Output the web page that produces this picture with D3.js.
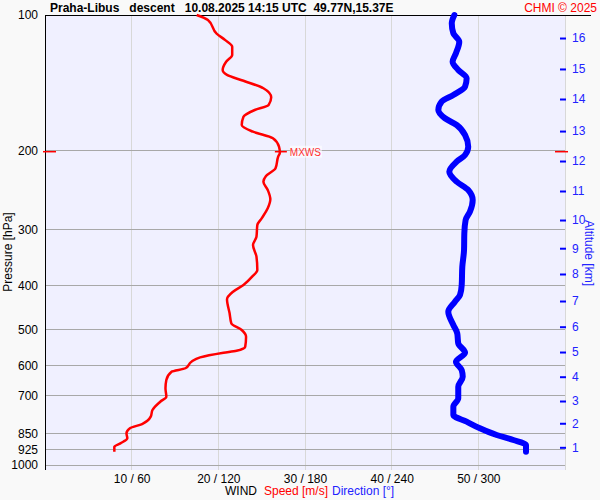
<!DOCTYPE html>
<html><head><meta charset="utf-8">
<script src="https://cdn.jsdelivr.net/npm/d3@7"></script>
<style>
body{margin:0;background:#f9f9f9}
svg{display:block;font-family:"Liberation Sans",Arial,sans-serif}
</style>
</head><body><svg id="c" width="600" height="500"></svg>
<script>
const pressureTicks = [100, 200, 300, 400, 500, 600, 700, 850, 925, 1000];
const windTicks = [10, 20, 30, 40, 50];
const altKm = [1, 2, 3, 4, 5, 6, 7, 8, 9, 10, 11, 12, 13, 14, 15, 16];
const altPres = [913.5, 807.7, 720.8, 636.5, 561, 492.8, 432.1, 376.3, 329.8, 285.5, 246.1, 211.1, 181.1, 153.7, 131.8, 112.5];

const speedPres = [100, 102.6, 110, 113.7, 117.6, 122.7, 127, 132.5, 135.9, 140, 145.5, 152.4, 158.5, 162.6, 168.3, 175.6, 181.7, 187.9, 196.2, 202.3,
  206.5, 219.1, 227.9, 234.6, 244.8, 256.8, 268.9, 283, 292.9, 311, 324.5, 344.4, 368.7, 381.5, 398.1, 412, 428.2, 460.1, 484.3, 501.2,
  518.7, 546, 557.2, 563, 576.5, 589.5, 609.6, 620.4, 647.4, 675.5, 705, 723.4, 754.7, 781, 810.9, 828.8, 850.3, 872.4, 895, 910.8, 934.2];
const speedVals = [17.5, 18.8, 19.8, 20.8, 21.6, 21.6, 20.9, 20.5, 21.0, 22.9, 25.2, 26.1, 25.8, 24.2, 22.9, 22.7, 24.0, 26.3, 27.0, 27.1,
  26.9, 26.6, 25.5, 25.2, 25.7, 26.0, 25.7, 25.0, 24.5, 24.4, 24.0, 24.4, 24.5, 23.9, 22.9, 21.7, 21.0, 21.3, 21.5, 22.7,
  23.2, 23.1, 22.1, 20.6, 17.9, 16.9, 16.2, 14.6, 14.0, 13.9, 14.0, 13.3, 12.4, 12.2, 11.2, 9.8, 9.4, 9.5, 8.7, 8.0, 8.0];

const dirPres = [100, 104.3, 109.8, 114.6, 121.6, 127, 132.5, 138.3, 144.3, 150.6, 155.8, 162.6, 169.6, 175.6, 184.8, 196.2, 204.7, 211.8, 222.9, 234.6,
  244.8, 257.7, 273.6, 285.5, 305.6, 332.8, 362.5, 398.1, 419.2, 433.7, 456.3, 488.5, 509.7, 536.5, 563, 589.5, 615.1, 636.5, 669.9, 710.8,
  742, 774.3, 801.2, 828.8, 857.7, 879.9, 902.8, 934.2];
const dirVals = [283.4, 281.6, 282.7, 286.8, 284.5, 282.2, 286.1, 291.9, 290.8, 282.7, 274.6, 272.3, 276.9, 285.0, 290.8, 293.0, 290.8, 285.0, 279.9, 285.0,
  293.0, 296.1, 294.2, 291.2, 290.3, 290.1, 288.9, 288.5, 287.3, 283.8, 279.2, 282.7, 285.4, 286.1, 290.8, 284.5, 288.5, 289.2, 286.1, 286.1,
  282.7, 282.7, 291.9, 301.1, 312.7, 324.2, 333.0, 333.0];

const L = 45, R = 565, T = 15, B = 465, BB = 470;
const svg = d3.select("#c");
const y = d3.scaleLog().domain([100, 1000]).range([T, B]);
const xs = d3.scaleLinear().domain([0, 60]).range([L, R]);
const xd = d3.scaleLinear().domain([0, 360]).range([L, R]);
const yAlt = d3.scaleLinear().domain(altKm).range(altPres.map(p => y(p)));

svg.append("rect").attr("width", 600).attr("height", 500).attr("fill", "#f9f9f9");
svg.append("rect").attr("x", L).attr("y", T).attr("width", R - L).attr("height", BB - T).attr("fill", "#f0f0ff");

// vertical grid
svg.append("g").selectAll("line").data(windTicks.concat([60])).join("line")
  .attr("x1", d => xs(d)).attr("x2", d => xs(d)).attr("y1", T).attr("y2", BB)
  .attr("stroke", "#d8d8d8").attr("stroke-width", 1).attr("shape-rendering", "crispEdges");
// horizontal grid
svg.append("g").selectAll("line").data(pressureTicks.slice(1)).join("line")
  .attr("x1", L).attr("x2", R).attr("y1", d => y(d)).attr("y2", d => y(d))
  .attr("stroke", "#a8a8a8").attr("stroke-width", 1).attr("shape-rendering", "crispEdges");

// borders
svg.append("line").attr("x1", L).attr("x2", 591).attr("y1", T).attr("y2", T).attr("stroke", "#000").attr("shape-rendering", "crispEdges");
svg.append("line").attr("x1", L).attr("x2", L).attr("y1", T).attr("y2", BB).attr("stroke", "#000").attr("shape-rendering", "crispEdges");

// left axis
const ax = svg.append("g").attr("transform", `translate(${L},0)`)
  .call(d3.axisLeft(y).tickValues(pressureTicks).tickFormat(d3.format("d")).tickSize(0).tickPadding(7));
ax.select(".domain").remove();
ax.selectAll("text").attr("font-size", 12).attr("fill", "#000").attr("font-family", "Liberation Sans, Arial, sans-serif");

// bottom axis
const bx = svg.append("g").attr("transform", `translate(0,${BB})`)
  .call(d3.axisBottom(xs).tickValues(windTicks).tickFormat(d => `${d} / ${d * 6}`).tickSize(0).tickPadding(4));
bx.select(".domain").remove();
bx.selectAll("text").attr("font-size", 12).attr("fill", "#000").attr("font-family", "Liberation Sans, Arial, sans-serif");

// right altitude axis
const rx = svg.append("g").attr("transform", `translate(560,0)`)
  .call(d3.axisRight(yAlt).tickValues(altKm).tickFormat(d3.format("d")).tickSize(6).tickPadding(6));
rx.select(".domain").remove();
rx.selectAll("line").attr("stroke", "#0000ff").attr("stroke-width", 2);
rx.selectAll("text").attr("font-size", 12).attr("fill", "#2222ff").attr("font-family", "Liberation Sans, Arial, sans-serif");

// curves
const lineS = d3.line().x((d, i) => xs(speedVals[i])).y(d => y(d)).curve(d3.curveMonotoneY);
const lineD = d3.line().x((d, i) => xd(dirVals[i])).y(d => y(d)).curve(d3.curveMonotoneY);
svg.append("path").attr("d", lineD(dirPres)).attr("fill", "none").attr("stroke", "#0000ff")
  .attr("stroke-width", 6).attr("stroke-linecap", "round").attr("stroke-linejoin", "round");
svg.append("path").attr("d", lineS(speedPres)).attr("fill", "none").attr("stroke", "#ff0000")
  .attr("stroke-width", 2.5).attr("stroke-linejoin", "round");

// MXWS
const mi = d3.maxIndex(speedVals);
const my = y(speedPres[mi]) - 1;
const mx = xs(speedVals[mi]);
svg.append("line").attr("x1", 43).attr("x2", 56).attr("y1", my).attr("y2", my).attr("stroke", "#ff0000").attr("stroke-width", 1.5);
svg.append("line").attr("x1", 555).attr("x2", 568).attr("y1", my).attr("y2", my).attr("stroke", "#ff0000").attr("stroke-width", 1.5);
svg.append("line").attr("x1", mx - 5).attr("x2", mx + 7).attr("y1", my).attr("y2", my).attr("stroke", "#ff0000").attr("stroke-width", 1.5);
svg.append("rect").attr("x", mx + 10).attr("y", my - 6).attr("width", 32).attr("height", 12).attr("fill", "#ffffff").attr("opacity", 0.6);
svg.append("text").attr("x", mx + 10).attr("y", my + 4).attr("font-size", 10).attr("fill", "#ff3030").text("MXWS");

// titles
svg.append("text").attr("x", 50).attr("y", 12).attr("font-size", 12).attr("font-weight", "bold")
  .style("white-space", "pre").attr("fill", "#000")
  .text("Praha-Libus   descent   10.08.2025 14:15 UTC  49.77N,15.37E");
svg.append("text").attr("x", 597).attr("y", 12).attr("font-size", 12).attr("text-anchor", "end")
  .attr("fill", "#ff0000").text("CHMI © 2025");

svg.append("text").attr("transform", "translate(8,252) rotate(-90)").attr("text-anchor", "middle")
  .attr("dominant-baseline", "central").attr("font-size", 12).attr("fill", "#000").text("Pressure [hPa]");
svg.append("text").attr("transform", "translate(589,253) rotate(90)").attr("text-anchor", "middle")
  .attr("dominant-baseline", "central").attr("font-size", 12).attr("fill", "#2222ff").text("Altitude [km]");

const leg = svg.append("text").attr("y", 495).attr("font-size", 12);
leg.append("tspan").attr("x", 225).attr("fill", "#000").text("WIND");
leg.append("tspan").attr("x", 264).attr("fill", "#ff0000").text("Speed [m/s]");
leg.append("tspan").attr("x", 332).attr("fill", "#2222ff").text("Direction [°]");
</script>
</body></html>
